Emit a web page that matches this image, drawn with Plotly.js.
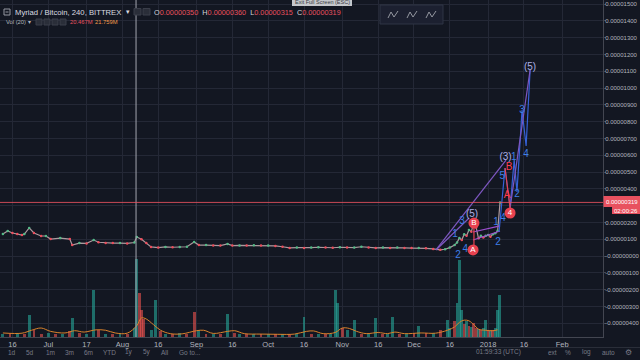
<!DOCTYPE html>
<html><head><meta charset="utf-8">
<script src="https://cdn.plot.ly/plotly-3.0.1.min.js"></script>
<style>html,body{margin:0;padding:0;background:#131722;}#chart{width:640px;height:360px;}</style>
</head><body><div id="chart"></div>
<script>
// ---- price (close, in satoshi = 1e-8 BTC) ----
const priceDates = ['2017-06-12','2017-06-14','2017-06-16','2017-06-18','2017-06-20','2017-06-21','2017-06-23','2017-06-25','2017-06-28','2017-06-30',
'2017-07-02','2017-07-06','2017-07-10','2017-07-11','2017-07-14','2017-07-17','2017-07-20','2017-07-22','2017-07-25','2017-07-28','2017-07-31',
'2017-08-03','2017-08-06','2017-08-07','2017-08-09','2017-08-11','2017-08-13','2017-08-16','2017-08-19','2017-08-22','2017-08-25','2017-08-28','2017-08-31',
'2017-09-02','2017-09-05','2017-09-08','2017-09-11','2017-09-14','2017-09-16','2017-09-19','2017-09-22','2017-09-25','2017-09-28',
'2017-10-01','2017-10-04','2017-10-07','2017-10-10','2017-10-13','2017-10-16','2017-10-19','2017-10-22','2017-10-25','2017-10-28','2017-10-31',
'2017-11-03','2017-11-06','2017-11-09','2017-11-12','2017-11-15','2017-11-18','2017-11-21','2017-11-24','2017-11-27','2017-11-30',
'2017-12-03','2017-12-06','2017-12-09','2017-12-12','2017-12-14','2017-12-16','2017-12-18','2017-12-19','2017-12-20','2017-12-21','2017-12-22',
'2017-12-23','2017-12-24','2017-12-25','2017-12-26','2017-12-27','2017-12-28','2017-12-29','2017-12-30','2017-12-31',
'2018-01-01','2018-01-02','2018-01-03','2018-01-04','2018-01-05','2018-01-06'];
const priceClose = [131,149,137,131,125,131,167,137,119,119,
101,107,101,65,77,75,95,82,78,77,77,
75,80,113,100,77,54,50,54,52,54,55,83,
65,65,63,62,72,62,63,62,64,62,
62,60,55,48,50,48,50,52,50,49,52,
50,50,55,50,48,50,48,50,48,47,
48,46,42,37,40,50,65,80,107,95,130,
120,155,145,196,170,105,120,110,120,
125,115,130,135,150,319];

// ---- volume (millions) and candle direction (1 = up, 0 = down) ----
const volDates = ['2017-06-12','2017-06-15','2017-06-18','2017-06-21','2017-06-23','2017-06-25','2017-06-28','2017-07-01','2017-07-04','2017-07-07',
'2017-07-10','2017-07-11','2017-07-14','2017-07-17','2017-07-20','2017-07-22','2017-07-25','2017-07-28','2017-07-31','2017-08-03',
'2017-08-06','2017-08-07','2017-08-08','2017-08-09','2017-08-10','2017-08-13','2017-08-15','2017-08-17','2017-08-19','2017-08-22',
'2017-08-25','2017-08-28','2017-08-31','2017-09-02','2017-09-05','2017-09-08','2017-09-11','2017-09-14','2017-09-17','2017-09-19',
'2017-09-22','2017-09-25','2017-09-28','2017-10-01','2017-10-04','2017-10-07','2017-10-10','2017-10-13','2017-10-16','2017-10-19',
'2017-10-22','2017-10-25','2017-10-27','2017-10-29','2017-10-30','2017-11-01','2017-11-03','2017-11-06','2017-11-09','2017-11-12',
'2017-11-15','2017-11-18','2017-11-20','2017-11-22','2017-11-25','2017-11-28','2017-12-01','2017-12-03','2017-12-06','2017-12-09',
'2017-12-12','2017-12-15','2017-12-16','2017-12-18','2017-12-19','2017-12-20','2017-12-21','2017-12-22','2017-12-23','2017-12-24',
'2017-12-25','2017-12-26','2017-12-27','2017-12-28','2017-12-29','2017-12-30','2017-12-31','2018-01-01','2018-01-02','2018-01-03',
'2018-01-04','2018-01-05','2018-01-05 18:00'];
const volM = [15,20,18,15,98,30,15,18,12,15,
25,85,20,15,210,30,15,15,20,15,
40,347,196,120,80,30,165,25,15,15,
18,15,111,30,15,15,15,102,20,15,
12,12,15,15,12,15,15,12,89,15,
15,15,12,209,150,40,30,75,15,15,
85,15,15,90,15,15,20,50,20,20,
30,75,40,70,150,343,120,60,70,50,
45,62,40,35,30,40,75,30,25,30,
40,120,187];
const volUp = [1,0,1,0,1,0,0,1,0,1,
0,1,0,1,1,0,1,0,1,0,
1,1,0,0,0,1,1,0,1,0,
1,0,0,1,0,1,0,1,0,1,
0,1,0,1,0,1,0,1,1,0,
1,0,1,1,1,0,1,1,0,1,
1,0,1,1,0,1,0,1,0,1,
0,1,1,0,1,1,1,0,1,0,
1,0,0,1,0,1,1,0,1,0,
1,1,1];

// ---- volume moving average (20) ----
const maDates = ['2017-06-12','2017-06-20','2017-06-24','2017-06-28','2017-07-02','2017-07-08','2017-07-12','2017-07-16','2017-07-21','2017-07-25',
'2017-07-29','2017-08-03','2017-08-07','2017-08-09','2017-08-11','2017-08-14','2017-08-17','2017-08-21','2017-08-26','2017-09-01',
'2017-09-04','2017-09-08','2017-09-14','2017-09-17','2017-09-21','2017-09-28','2017-10-05','2017-10-12','2017-10-17','2017-10-20',
'2017-10-24','2017-10-29','2017-11-01','2017-11-04','2017-11-07','2017-11-11','2017-11-16','2017-11-20','2017-11-23','2017-11-27',
'2017-12-04','2017-12-10','2017-12-15','2017-12-18','2017-12-20','2017-12-22','2017-12-24','2017-12-26','2017-12-28','2017-12-31',
'2018-01-03','2018-01-05'];
const maM = [18,17,30,40,25,18,28,22,32,30,
18,17,50,85,80,55,30,15,14,28,
30,16,25,28,15,13,12,13,25,27,
15,20,40,38,25,15,20,15,22,15,
18,17,30,45,65,75,72,55,35,30,
28,32];

// ---- axes (the 0.00000300 label is hidden under the price tag in the source) ----
const yTickVals = [1500,1400,1300,1200,1100,1000,900,800,700,600,500,400,300,200,100,0,-100,-200,-300,-400];
const yTickText = ['0.00001500','0.00001400','0.00001300','0.00001200','0.00001100','0.00001000','0.00000900','0.00000800','0.00000700','0.00000600','0.00000500','0.00000400','','0.00000200','0.00000100','-0.00000000','-0.00000100','-0.00000200','-0.00000300','-0.00000400'];
const xTickVals = ['2017-06-16','2017-07-01','2017-07-17','2017-08-01','2017-08-16','2017-09-01','2017-09-16','2017-10-01','2017-10-16','2017-11-01','2017-11-16','2017-12-01','2017-12-16','2018-01-01','2018-01-16','2018-02-01'];
const xTickText = ['16','Jul','17','Aug','16','Sep','16','Oct','16','Nov','16','Dec','16','2018','16','Feb'];
const lastPrice = 319;
const markerLineDate = '2017-08-06 17:00';

// ---- Elliott wave drawings ----
const purpleLongDates = ['2017-12-10 05:00','2018-01-08 12:00']; const purpleLongVals = [36,571];
const purpleShortDates = ['2017-12-10 05:00','2017-12-24 02:00']; const purpleShortVals = [36,226];
const waveUpDates = ['2018-01-05 14:00','2018-01-08 02:00','2018-01-10 05:00','2018-01-11 22:00','2018-01-13 02:00','2018-01-15 05:00','2018-01-16 22:00','2018-01-18 14:00'];
const waveUpVals = [143,524,286,571,381,869,655,1107];
const redLegDates = ['2018-01-08 02:00','2018-01-10 05:00']; const redLegVals = [524,286];
const purpleFinalDates = ['2018-01-10 05:00','2018-01-18 14:00']; const purpleFinalVals = [286,1107];
const triUpperDates = ['2017-12-25 17:00','2018-01-06 00:00']; const triUpperVals = [143,179];
const triLowerDates = ['2017-12-25 17:00','2018-01-06 00:00']; const triLowerVals = [95,149];
const redDropDates = ['2017-12-26 02:00','2017-12-26 02:00']; const redDropVals = [196,36];

const blueLblDates = ['2017-12-18 05:00','2017-12-21 02:00','2017-12-19 10:00','2017-12-22 10:00','2018-01-05 05:00','2018-01-04 07:00','2018-01-07 07:00','2018-01-13 02:00','2018-01-06 22:00','2018-01-11 18:00','2018-01-15 05:00','2018-01-16 22:00'];
const blueLblVals = [131,208,6,36,83,202,226,369,476,589,869,607];
const blueLblText = ['1','3','2','4','2','1','4','2','5','1','3','4'];
const greyLblDates = ['2017-12-25 07:00','2018-01-08 08:00','2018-01-18 14:00'];
const greyLblVals = [250,589,1125];
const greyLblText = ['(5)','(3)','(5)'];
const redLblDates = ['2018-01-08 22:00','2018-01-09 19:00'];
const redLblVals = [363,524];
const redLblText = ['A','B'];
const redDotDates = ['2017-12-26 02:00','2017-12-25 17:00','2018-01-10 05:00'];
const redDotVals = [196,36,256];
const redDotText = ['B','A','4'];

// ---- colours ----
const GREEN='#53b987', RED='#eb4d5c', BLUE='#3f7fe6', PURPLE='#7e57c2', BG='#131722', GRID='#242836', TXT='#b2b5be';

const priceColors = priceClose.map((v,i)=> i===0||v>=priceClose[i-1]?GREEN:RED);
const volColors = volUp.map(u=> u?'rgba(38,166,154,0.6)':'rgba(239,83,80,0.6)');

const F='Liberation Sans, Arial, sans-serif';
function line(x,y,color,w){return {x:x,y:y,type:'scatter',mode:'lines',line:{color:color,width:w||1.2},hoverinfo:'skip'};}

const traces = [
  {x:volDates,y:volM,type:'bar',yaxis:'y2',marker:{color:volColors,line:{width:0}},width:86400000*1.2,hoverinfo:'skip'},
  {x:maDates,y:maM,type:'scatter',mode:'lines',yaxis:'y2',line:{color:'#d9822b',width:1,shape:'spline'},hoverinfo:'skip'},
  {x:priceDates,y:priceClose,type:'scatter',mode:'lines+markers',line:{color:'rgba(200,175,180,0.85)',width:1.2},marker:{size:2.5,color:priceColors},hoverinfo:'skip'},
  line(purpleLongDates,purpleLongVals,PURPLE),
  line(purpleShortDates,purpleShortVals,PURPLE),
  line(triUpperDates,triUpperVals,'#9c4fd0'),
  line(triLowerDates,triLowerVals,'#9c4fd0'),
  line(waveUpDates,waveUpVals,'#3562d8'),
  line(purpleFinalDates,purpleFinalVals,PURPLE),
  line(redLegDates,redLegVals,'#e8414f'),
  line(redDropDates,redDropVals,'#e8414f'),
  {x:blueLblDates,y:blueLblVals,text:blueLblText,type:'scatter',mode:'text',textposition:'middle center',textfont:{family:F,size:10,color:BLUE},hoverinfo:'skip'},
  {x:greyLblDates,y:greyLblVals,text:greyLblText,type:'scatter',mode:'text',textposition:'middle center',textfont:{family:F,size:10,color:'#aab0e4'},hoverinfo:'skip'},
  {x:redLblDates,y:redLblVals,text:redLblText,type:'scatter',mode:'text',textposition:'middle center',textfont:{family:F,size:10,color:'#ff3b4e'},hoverinfo:'skip'},
  {x:redDotDates,y:redDotVals,text:redDotText,type:'scatter',mode:'markers+text',textposition:'middle center',marker:{size:11,color:'#e8414f'},textfont:{family:F,size:8,color:'#ffffff'},hoverinfo:'skip'}
];

const PW=603, PH=337;
const px=x=>x/PW, py=y=>1-y/PH;
function ann(x,y,text,size,color,anchor,extra){return Object.assign({xref:'paper',yref:'paper',x:px(x),y:py(y),text:text,showarrow:false,xanchor:anchor||'left',yanchor:'middle',font:{family:F,size:size,color:color}},extra||{});}
function rect(x0,y0,x1,y1,fill,lc){return {type:'rect',xref:'paper',yref:'paper',x0:px(x0),x1:px(x1),y0:py(y0),y1:py(y1),fillcolor:fill,line:{color:lc||fill,width:lc?1:0},layer:'above'};}
function pathPx(pts,color){return {type:'path',xref:'paper',yref:'paper',path:'M '+pts.map(p=>px(p[0])+' '+py(p[1])).join(' L '),line:{color:color,width:1},layer:'above'};}

const R='<span style="color:#e8515f">';
const annotations = [
  ann(13,12,'Myriad / Bitcoin, 240, BITTREX',7.7,'#d9dbe0'),
  ann(124,12,'▾',7,'#d9dbe0','left',{font:{family:'DejaVu Sans',size:7,color:'#d9dbe0'}}),
  ann(152,12,'O'+R+'0.00000350</span>  H'+R+'0.00000360</span>  L'+R+'0.00000315</span>  C'+R+'0.00000319</span>',7.3,'#d1d4dc'),
  ann(4,22,'Vol (20) ▾',5.8,TXT),
  ann(68,22,'20.467M',5.8,'#e8515f'),
  ann(93,22,'21.759M',5.8,'#f2994a'),
  ann(322,2.5,'Exit Full Screen (ESC)',5.5,'#3a3c42','center'),
  ann(622,201.5,'0.00000319',6,'#ffffff','center'),
  ann(626,210.5,'02:00:26',6,'#ffffff','center'),
  ann(12,352,'1d',6.5,'#787b86','center'), ann(30,352,'5d',6.5,'#787b86','center'), ann(50,352,'1m',6.5,'#787b86','center'),
  ann(69,352,'3m',6.5,'#787b86','center'), ann(88,352,'6m',6.5,'#787b86','center'), ann(109,352,'YTD',6.5,'#787b86','center'),
  ann(129,352,'1y',6.5,'#787b86','center'), ann(147,352,'5y',6.5,'#787b86','center'), ann(165,352,'All',6.5,'#787b86','center'),
  ann(190,352,'Go to...',6.5,'#787b86','center'),
  ann(498,352,'01:59:33 (UTC)',6.5,'#787b86','center'), ann(552,352,'ext',6.5,'#787b86','center'), ann(568,352,'%',6.5,'#787b86','center'),
  ann(586,352,'log',6.5,'#787b86','center'), ann(608,352,'auto',6.5,'#787b86','center'), ann(628,352,'⚙',7.5,'#787b86','center',{font:{family:'DejaVu Sans',size:8,color:'#787b86'}})
];

const shapes = [
  {type:'line',xref:'x',yref:'paper',x0:markerLineDate,x1:markerLineDate,y0:0,y1:1,line:{color:'#a3a6af',width:1}},
  {type:'line',xref:'paper',yref:'y',x0:0,x1:1,y0:lastPrice,y1:lastPrice,line:{color:'rgba(232,81,95,0.85)',width:1}},
  {type:'line',xref:'paper',yref:'paper',x0:px(0),x1:px(640),y0:py(347.5),y1:py(347.5),line:{color:'#2a2e39',width:1}},
  rect(4,9,10,15,'rgba(0,0,0,0)','#9598a1'),
  {type:'line',xref:'paper',yref:'paper',x0:px(5.5),x1:px(8.5),y0:py(12),y1:py(12),line:{color:'#9598a1',width:1}},
  rect(134,8.5,141,15,'#2a2e39','#3a3e4a'), rect(143,8.5,150,15,'#2a2e39','#3a3e4a'),
  rect(36,19,42,25,'#2a2e39','#3a3e4a'), rect(44,19,50,25,'#2a2e39','#3a3e4a'), rect(52,19,58,25,'#2a2e39','#3a3e4a'), rect(60,19,66,25,'#2a2e39','#3a3e4a'),
  rect(292,-4,352,6,'#c5c7cc'),
  rect(380,5,443,24,'#1c2030','#2f3444'),
  pathPx([[388,18],[391,12],[394,17],[398,11]],'#9598a1'),
  pathPx([[407,18],[410,12],[413,17],[417,11]],'#9598a1'),
  pathPx([[426,18],[429,12],[432,17],[436,11]],'#9598a1'),
  rect(603.5,196,640,207,'#e8515f'),
  rect(612,207,640,214,'#e8515f')
];

const layout = {
  width:640,height:360,
  margin:{l:0,r:37,t:0,b:23,pad:0},
  paper_bgcolor:BG, plot_bgcolor:BG,
  showlegend:false, bargap:0,
  font:{family:F,color:TXT},
  xaxis:{type:'date',range:['2017-06-10 19:00','2018-02-18 02:00'],tickvals:xTickVals,ticktext:xTickText,tickfont:{family:F,size:7.5,color:TXT},
         gridcolor:GRID,gridwidth:1,showline:true,linecolor:'#434651',ticks:'',zeroline:false,fixedrange:true,automargin:false},
  yaxis:{range:[-482.1,1523.8],side:'right',tickvals:yTickVals,ticktext:yTickText,tickfont:{family:F,size:6,color:TXT},ticklabelstandoff:-2,
         gridcolor:GRID,gridwidth:1,showline:true,linecolor:'#434651',ticks:'outside',ticklen:2,tickcolor:'#434651',zeroline:false,fixedrange:true,automargin:false},
  yaxis2:{range:[0,1500],overlaying:'y',visible:false,fixedrange:true},
  annotations:annotations, shapes:shapes
};

Plotly.newPlot('chart',traces,layout,{displayModeBar:false,staticPlot:true});
</script></body></html>
